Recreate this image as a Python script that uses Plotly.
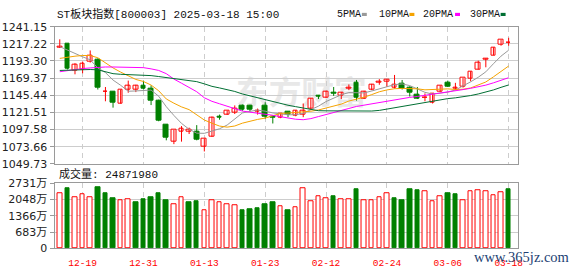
import base64
import plotly.graph_objects as go
import pandas as pd

# ---------------- data ----------------
dates = ["12-16", "12-17", "12-18", "12-19", "12-20", "12-23", "12-24", "12-25", "12-26", "12-27",
         "12-30", "12-31", "01-02", "01-03", "01-06", "01-07", "01-08", "01-09", "01-10", "01-13",
         "01-14", "01-15", "01-16", "01-17", "01-20", "01-21", "01-22", "01-23", "01-24", "01-27",
         "02-05", "02-06", "02-07", "02-10", "02-11", "02-12", "02-13", "02-14", "02-17", "02-18",
         "02-19", "02-20", "02-21", "02-24", "02-25", "02-26", "02-27", "02-28", "03-03", "03-04",
         "03-05", "03-06", "03-07", "03-10", "03-11", "03-12", "03-13", "03-14", "03-17", "03-18"]

opens = [1212.4, 1216.8, 1180.1, 1181.4, 1192.5, 1195.6, 1150.2, 1149.9, 1133.9, 1153.5,
         1153.5, 1159.2, 1154.8, 1138.4, 1103.8, 1080.4, 1094.1, 1094.1, 1094.1, 1074.2,
         1087.4, 1115.8, 1118.0, 1120.7, 1130.4, 1130.4, 1122.0, 1130.4, 1115.4, 1114.9,
         1122.0, 1117.1, 1118.9, 1126.9, 1144.6, 1142.8, 1149.0, 1145.5, 1155.2, 1163.7,
         1140.6, 1152.6, 1163.2, 1164.1, 1155.7, 1162.3, 1155.7, 1145.9, 1141.5, 1134.9,
         1150.4, 1162.8, 1155.2, 1157.0, 1168.0, 1181.4, 1195.1, 1201.3, 1215.9, 1218.6]
highs = [1223.5, 1217.5, 1190.2, 1192.5, 1208.0, 1196.9, 1157.0, 1150.8, 1153.5, 1165.9,
         1160.1, 1165.9, 1159.2, 1139.3, 1105.2, 1097.2, 1102.5, 1100.3, 1103.8, 1085.0,
         1115.8, 1118.5, 1124.0, 1131.3, 1132.6, 1132.2, 1126.9, 1135.7, 1117.1, 1120.5,
         1122.9, 1124.6, 1134.0, 1141.5, 1145.9, 1151.7, 1157.0, 1149.9, 1160.6, 1166.8,
         1151.7, 1161.4, 1168.0, 1168.0, 1173.8, 1166.8, 1157.9, 1157.0, 1148.1, 1148.1,
         1159.2, 1165.9, 1162.8, 1169.8, 1179.0, 1193.8, 1196.9, 1212.4, 1223.0, 1225.7]
lows = [1211.5, 1181.5, 1174.7, 1176.1, 1191.1, 1153.5, 1137.1, 1128.2, 1133.9, 1149.0,
        1149.9, 1153.5, 1131.8, 1109.2, 1082.6, 1077.3, 1080.8, 1091.4, 1082.6, 1067.1,
        1087.4, 1111.4, 1118.0, 1119.3, 1123.8, 1122.9, 1118.5, 1112.7, 1106.1, 1113.5,
        1114.9, 1116.2, 1114.9, 1124.7, 1140.2, 1141.9, 1144.6, 1140.2, 1152.6, 1138.0,
        1140.2, 1152.6, 1160.1, 1157.0, 1154.8, 1153.5, 1143.7, 1140.2, 1137.1, 1134.0,
        1150.4, 1157.0, 1152.6, 1156.1, 1165.0, 1181.4, 1184.5, 1201.3, 1214.6, 1214.6]
closes = [1213.0, 1183.0, 1188.0, 1189.8, 1200.9, 1156.1, 1150.8, 1135.7, 1153.5, 1159.2,
          1158.3, 1154.8, 1138.0, 1110.5, 1086.1, 1097.2, 1099.4, 1097.2, 1083.0, 1085.0,
          1114.0, 1114.5, 1123.3, 1126.2, 1125.8, 1125.4, 1123.3, 1115.8, 1114.0, 1119.8,
          1118.0, 1124.2, 1124.6, 1141.1, 1143.3, 1150.4, 1147.3, 1148.6, 1156.6, 1141.5,
          1149.9, 1160.6, 1164.1, 1166.8, 1160.1, 1154.8, 1149.0, 1141.1, 1142.8, 1148.1,
          1159.2, 1157.9, 1156.1, 1169.4, 1178.3, 1191.1, 1196.0, 1212.4, 1222.6, 1219.5]
# volume in units of 万 (10k)
volumes = [2332, 2504, 2132, 2280, 2132, 2544, 2292, 2104, 2012, 2080,
           1932, 2052, 2132, 2292, 2012, 1852, 2132, 1932, 1972, 1600,
           2000, 1932, 1852, 1812, 1612, 1652, 1692, 1852, 1932, 1772,
           1612, 1732, 2532, 1972, 2200, 2092, 2172, 2040, 2040, 2492,
           2000, 2000, 2160, 2320, 2092, 2012, 2492, 2452, 2400, 1960,
           2200, 2292, 2252, 2000, 2400, 2452, 2400, 2240, 2360, 2487]

# moving-average values before a full window exists inside the chart
ma5_head = [1213.3, 1208.4, 1204.0, 1199.1]
ma10_head = [1196.9, 1198.7, 1200.0, 1200.9, 1200.9, 1197.8, 1190.2, 1183.6, 1177.8]
ma20_head = [1178.3, 1180.1, 1181.4, 1182.7, 1183.6, 1184.5, 1184.9, 1184.9, 1184.9, 1184.5,
             1184.5, 1184.0, 1182.3, 1180.1, 1175.6, 1168.1, 1162.3, 1156.1, 1150.4]
ma30_head = [1180.1, 1180.5, 1181.0, 1181.4, 1181.4, 1181.0, 1178.3, 1175.6, 1174.7, 1174.3,
             1173.8, 1173.4, 1172.9, 1171.6, 1170.3, 1168.9, 1167.2, 1165.9, 1164.5, 1161.4,
             1157.9, 1155.7, 1153.5, 1150.8, 1147.3, 1144.6, 1142.4, 1140.2, 1137.5]

price_ticks = [1049.73, 1073.66, 1097.58, 1121.51, 1145.44, 1169.37, 1193.30, 1217.22, 1241.15]
vol_ticks = [0, 683, 1366, 2048, 2731]
vol_tick_text = ["0", "683万", "1366万", "2048万", "2731万"]
date_ticks = ["12-19", "12-31", "01-13", "01-23", "02-12", "02-24", "03-06", "03-18"]

title_text = "ST板块指数[800003] 2025-03-18 15:00"
vol_title = "成交量: 24871980"
ma_names = ["5PMA", "10PMA", "20PMA", "30PMA"]
watermark = "东方财富"
site_mark = "www.365jz.com"

# ---------------- derived ----------------
n = len(closes)
idx = list(range(n))
cs = pd.Series(closes)


def ma(win, head):
    s = cs.rolling(win).mean().tolist()
    return head + s[len(head):]


ma_series = [ma(5, ma5_head), ma(10, ma10_head), ma(20, ma20_head), ma(30, ma30_head)]

RED = "#ff0000"
GREEN = "#008000"
ma_colors = ["#999999", "#f5a300", "#ff00ff", "#006f33"]

W, H = 578, 276
PX_L, PX_R = 55, 522.3
MAIN_T, MAIN_B = 21.7, 165.7
VOL_T, VOL_B = 186.0, 254.3


def px_x(p):
    return p / W


def px_y(p):
    return 1 - p / H


fig = go.Figure()

up = [c >= o for o, c in zip(opens, closes)]

# wicks
for flag, col in ((True, RED), (False, GREEN)):
    xs, ys = [], []
    for i in idx:
        if up[i] == flag:
            xs += [i, i, None]
            ys += [lows[i], highs[i], None]
    fig.add_trace(go.Scatter(x=xs, y=ys, mode="lines", line=dict(color=col, width=1),
                             hoverinfo="skip", showlegend=False, xaxis="x", yaxis="y"))

# bodies
for flag, fill, col in ((True, "white", RED), (False, GREEN, GREEN)):
    xi = [i for i in idx if up[i] == flag]
    base = [min(opens[i], closes[i]) for i in xi]
    hgt = [max(abs(closes[i] - opens[i]), 0.3) for i in xi]
    fig.add_trace(go.Bar(x=xi, y=hgt, base=base, width=0.62,
                         marker=dict(color=fill, line=dict(color=col, width=1)),
                         showlegend=False, xaxis="x", yaxis="y"))

# moving averages
for s, col in zip(ma_series, ma_colors):
    fig.add_trace(go.Scatter(x=idx, y=s, mode="lines", line=dict(color=col, width=1),
                             showlegend=False, xaxis="x", yaxis="y"))

# volume (colour by change against previous close)
vup = [True] + [closes[i] >= closes[i - 1] for i in idx[1:]]
for flag, fill, col in ((True, "white", RED), (False, GREEN, GREEN)):
    xi = [i for i in idx if vup[i] == flag]
    fig.add_trace(go.Bar(x=xi, y=[volumes[i] for i in xi], width=0.6,
                         marker=dict(color=fill, line=dict(color=col, width=1)),
                         showlegend=False, xaxis="x2", yaxis="y2"))

tickpos = [dates.index(d) for d in date_ticks]
xrange_ = [-0.69, 60.2]
grid_c = "#cdcdcd"
line_c = "#9a9a9a"
tickfont = dict(family="DejaVu Sans", size=11, color="#222222")

fig.update_layout(
    width=W, height=H, margin=dict(l=0, r=0, t=0, b=0),
    paper_bgcolor="white", plot_bgcolor="white",
    barmode="overlay", bargap=0, showlegend=False,
    xaxis=dict(domain=[px_x(PX_L), px_x(PX_R)], range=xrange_, anchor="y",
               tickvals=tickpos, showticklabels=False, ticks="",
               showgrid=True, gridcolor=grid_c, griddash="5px,4px", gridwidth=1,
               showline=True, mirror=True, linecolor=line_c, linewidth=1, zeroline=False),
    yaxis=dict(domain=[px_y(MAIN_B), px_y(MAIN_T)], range=[price_ticks[0], price_ticks[-1]],
               anchor="x", tickvals=price_ticks, ticktext=[f"{v:.2f}" for v in price_ticks],
               ticks="outside", ticklen=4, tickcolor=line_c, tickfont=tickfont,
               showgrid=True, gridcolor=grid_c, gridwidth=1,
               showline=True, mirror=True, linecolor=line_c, linewidth=1, zeroline=False),
    xaxis2=dict(domain=[px_x(PX_L), px_x(PX_R)], range=xrange_, anchor="y2", matches="x",
                tickvals=tickpos, ticktext=date_ticks,
                ticks="outside", ticklen=5, tickcolor="rgba(0,0,0,0)",
                tickfont=dict(family="Liberation Mono", size=9.5, color=RED),
                showgrid=True, gridcolor=grid_c, griddash="5px,4px", gridwidth=1,
                showline=True, mirror=True, linecolor=line_c, linewidth=1, zeroline=False),
    yaxis2=dict(domain=[px_y(VOL_B), px_y(VOL_T)], range=[0, vol_ticks[-1]], anchor="x2",
                tickvals=vol_ticks, ticktext=vol_tick_text,
                ticks="outside", ticklen=4, tickcolor=line_c,
                tickfont=dict(family="DejaVu Sans, Noto Sans CJK SC", size=11, color="#222222"),
                showgrid=True, gridcolor=grid_c, gridwidth=1,
                showline=True, mirror=True, linecolor=line_c, linewidth=1, zeroline=False),
)

# faint watermark behind the price chart
svg = ('<svg xmlns="http://www.w3.org/2000/svg" width="180" height="40">'
       '<text x="0" y="33" font-family="Noto Sans CJK SC" font-weight="bold" font-size="33" '
       'fill="#e8e8e8">' + watermark + '</text></svg>')
uri = "data:image/svg+xml;base64," + base64.b64encode(svg.encode("utf-8")).decode("ascii")
fig.add_layout_image(source=uri, xref="paper", yref="paper", x=px_x(238), y=px_y(70),
                     sizex=180 / W, sizey=40 / H, xanchor="left", yanchor="top",
                     sizing="contain", layer="below")

mono = "Liberation Mono, Noto Sans CJK SC"
fig.add_annotation(text=title_text, x=px_x(55), y=px_y(8.5), xref="paper", yref="paper",
                   xanchor="left", yanchor="middle", showarrow=False,
                   font=dict(family=mono, size=11, color="#111111"))
fig.add_annotation(text=vol_title, x=px_x(57), y=px_y(176), xref="paper", yref="paper",
                   xanchor="left", yanchor="middle", showarrow=False,
                   font=dict(family=mono, size=11, color="#111111"))

legend_x = [338, 380, 425, 472]
square_x = [365, 413, 459, 505]
for name, lx, sx, col in zip(ma_names, legend_x, square_x, ma_colors):
    fig.add_annotation(text=name, x=px_x(lx), y=px_y(8.5), xref="paper", yref="paper",
                       xanchor="left", yanchor="middle", showarrow=False,
                       font=dict(family="Liberation Mono", size=10, color="#111111"))
    fig.add_shape(type="rect", xref="paper", yref="paper",
                  x0=px_x(sx), x1=px_x(sx + 5), y0=px_y(10.5), y1=px_y(7.2),
                  fillcolor=col, line=dict(width=0))

fig.add_annotation(text=site_mark, x=px_x(577), y=px_y(263), xref="paper", yref="paper",
                   xanchor="right", yanchor="middle", showarrow=False,
                   font=dict(family="Liberation Serif", size=14.5, color="#1d3f73"))

fig.write_html("out.html")
